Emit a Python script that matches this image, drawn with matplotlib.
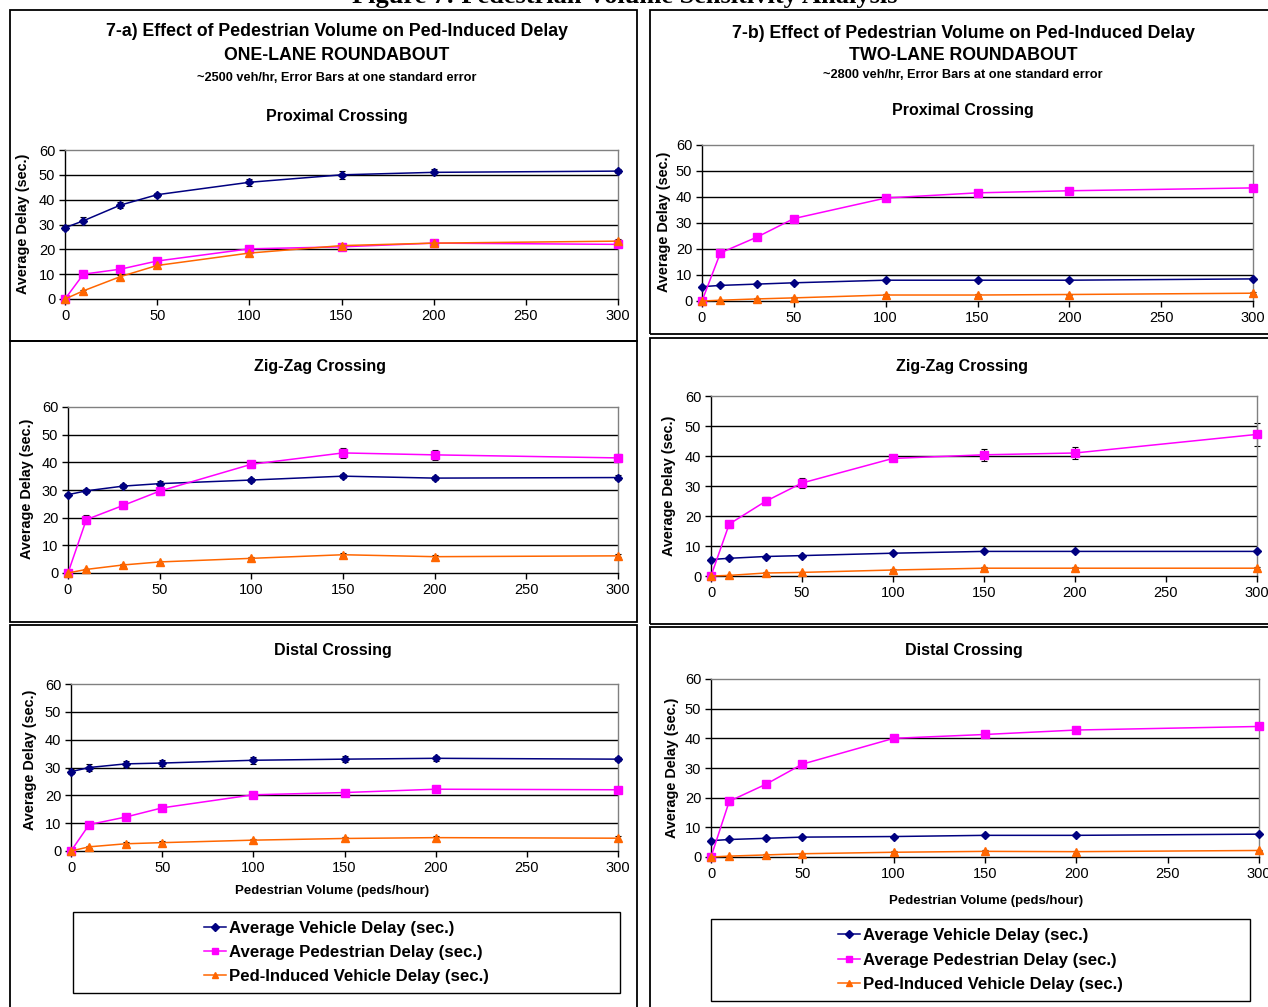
import matplotlib
matplotlib.use("Agg")
import matplotlib.pyplot as plt
from matplotlib.patches import Rectangle
from matplotlib.lines import Line2D

plt.rcParams['font.family'] = ['Liberation Sans', 'DejaVu Sans']

W, H = 1268, 1007

PED_VOLUME = [0, 10, 30, 50, 100, 150, 200, 300]
SERIES_NAMES = ['Average Vehicle Delay (sec.)',
                'Average Pedestrian Delay (sec.)',
                'Ped-Induced Vehicle Delay (sec.)']

# one-lane roundabout
VEH_1A = [28.7, 31.5, 37.8, 42.0, 47.0, 50.0, 51.0, 51.5]
PED_1A = [0.0, 10.0, 12.0, 15.3, 20.2, 21.0, 22.5, 22.0]
PID_1A = [0.0, 3.3, 9.0, 13.5, 18.5, 21.5, 22.5, 23.3]
VEH_2A = [28.3, 29.7, 31.4, 32.3, 33.6, 35.0, 34.3, 34.5]
PED_2A = [0.0, 19.3, 24.4, 29.6, 39.3, 43.4, 42.7, 41.6]
PID_2A = [0.0, 1.3, 2.9, 4.0, 5.3, 6.6, 5.9, 6.2]
VEH_3A = [28.5, 30.0, 31.3, 31.6, 32.6, 33.0, 33.3, 33.0]
PED_3A = [0.0, 9.5, 12.2, 15.5, 20.2, 21.0, 22.2, 22.0]
PID_3A = [0.0, 1.5, 2.6, 3.0, 3.9, 4.5, 4.8, 4.6]

# two-lane roundabout
VEH_1B = [5.5, 6.0, 6.5, 7.0, 8.0, 8.0, 8.0, 8.5]
PED_1B = [0.0, 18.5, 24.6, 31.7, 39.6, 41.6, 42.4, 43.5]
PID_1B = [0.0, 0.3, 0.8, 1.2, 2.3, 2.3, 2.5, 3.0]
VEH_2B = [5.5, 5.9, 6.5, 6.8, 7.6, 8.2, 8.2, 8.2]
PED_2B = [0.0, 17.3, 24.9, 31.0, 39.2, 40.4, 41.0, 47.2]
PID_2B = [0.0, 0.2, 1.0, 1.2, 2.0, 2.6, 2.6, 2.6]
VEH_3B = [5.5, 5.9, 6.3, 6.7, 6.9, 7.3, 7.3, 7.7]
PED_3B = [0.0, 18.8, 24.5, 31.3, 40.0, 41.3, 42.8, 44.0]
PID_3B = [0.0, 0.3, 0.7, 1.1, 1.6, 1.9, 1.8, 2.2]

# standard errors
VEH_ERR_1A = [0.8, 1.5, 1.2, 0.8, 1.5, 1.5, 1.2, 0.8]
PED_ERR_1A = [0.0, 0.8, 0.8, 0.8, 0.8, 0.8, 0.8, 0.8]
PID_ERR_1A = [0.0, 0.5, 0.8, 0.8, 0.8, 0.8, 0.8, 0.8]
VEH_ERR_2A = [0.5, 0.8, 0.8, 0.8, 0.8, 0.8, 0.8, 0.8]
PED_ERR_2A = [0.0, 1.6, 1.4, 1.3, 1.3, 1.8, 1.8, 1.3]
PID_ERR_2A = [0.0, 0.3, 0.4, 0.4, 0.4, 0.5, 0.5, 0.5]
VEH_ERR_3A = [0.8, 1.2, 1.2, 1.2, 1.2, 1.2, 0.9, 0.8]
PED_ERR_3A = [0.0, 0.8, 0.8, 0.8, 0.8, 0.8, 0.8, 0.8]
PID_ERR_3A = [0.0, 0.4, 0.5, 0.5, 0.5, 0.7, 0.7, 0.7]
VEH_ERR_1B = [0.3, 0.4, 0.3, 0.3, 0.3, 0.3, 0.3, 0.3]
PED_ERR_1B = [0.0, 1.5, 1.0, 1.0, 1.0, 0.8, 0.8, 0.8]
PID_ERR_1B = [0.0, 0.2, 0.2, 0.2, 0.3, 0.3, 0.3, 0.3]
VEH_ERR_2B = [0.3, 0.3, 0.3, 0.3, 0.3, 0.3, 0.3, 0.3]
PED_ERR_2B = [0.0, 1.2, 1.3, 1.6, 1.0, 1.9, 2.0, 3.7]
PID_ERR_2B = [0.0, 0.2, 0.2, 0.2, 0.3, 0.3, 0.3, 0.3]
VEH_ERR_3B = [0.3, 0.3, 0.3, 0.3, 0.3, 0.3, 0.3, 0.3]
PED_ERR_3B = [0.0, 1.2, 0.9, 1.2, 0.8, 0.8, 0.8, 0.8]
PID_ERR_3B = [0.0, 0.2, 0.2, 0.2, 0.3, 0.3, 0.3, 0.3]

COLORS = ['#000080', '#FF00FF', '#FF6600']
MARKERS = ['D', 's', '^']
MSIZES = [4, 5.5, 5.5]

fig = plt.figure(figsize=(W / 100, H / 100), dpi=100)


def fx(x):
    return x / W


def fy(y):
    return 1 - y / H


def box(x0, y0, x1, y1, lw=1.3):
    fig.patches.append(Rectangle((fx(x0), fy(y1)), fx(x1 - x0), (y1 - y0) / H,
                                 transform=fig.transFigure, fill=False,
                                 edgecolor='black', linewidth=lw))


def text(x, y, s, size, **kw):
    fig.text(fx(x), fy(y), s, fontsize=size, ha='center', va='center', **kw)


def panel(rect, series, errors):
    x0, y0, x1, y1 = rect
    ax = fig.add_axes([fx(x0), fy(y1), fx(x1 - x0), (y1 - y0) / H])
    for ys, es, c, m, ms in zip(series, errors, COLORS, MARKERS, MSIZES):
        ax.errorbar(PED_VOLUME, ys, yerr=es, fmt='none', ecolor='black',
                    elinewidth=0.8, capsize=2, capthick=0.8, clip_on=False)
        ax.plot(PED_VOLUME, ys, color=c, marker=m, markersize=ms, lw=1.1,
                clip_on=False, zorder=3)
    ax.set_xlim(0, 300)
    ax.set_ylim(0, 60)
    ax.set_xticks(range(0, 301, 50))
    ax.set_yticks(range(0, 61, 10))
    ax.tick_params(labelsize=10.5, direction='out', length=4, width=1, pad=3)
    for yv in range(10, 60, 10):
        ax.axhline(yv, color='black', lw=1, zorder=1)
    ax.spines['top'].set_color('#808080')
    ax.spines['right'].set_color('#808080')
    for s in ax.spines.values():
        s.set_linewidth(1)
    return ax


def legend_box(x0, y0, x1, y1):
    box(x0, y0, x1, y1, lw=1)
    handles = [Line2D([], [], color=c, marker=m, markersize=ms * 0.9, lw=1.1)
               for c, m, ms in zip(COLORS, MARKERS, MSIZES)]
    fig.legend(handles, SERIES_NAMES, loc='center',
               bbox_to_anchor=(fx((x0 + x1) / 2), fy((y0 + y1) / 2)),
               frameon=False, prop={'size': 12.1, 'weight': 'bold'},
               handlelength=1.3, handletextpad=0.2, labelspacing=0.55,
               borderpad=0)


# page title (cut at top)
fig.text(fx(625), fy(3), 'Figure 7: Pedestrian Volume Sensitivity Analysis',
         family='Liberation Serif', fontweight='bold', fontsize=19,
         ha='center', va='baseline')

# frames
box(10, 10, 637, 341)
box(10, 341, 637, 622)
box(10, 625, 637, 1015)
box(650, 10, 1280, 334)
box(650, 338, 1280, 624)
box(650, 627, 1280, 1015)

BOLD = {'fontweight': 'bold'}

# left column: one-lane
text(337, 32, '7-a) Effect of Pedestrian Volume on Ped-Induced Delay', 12.8, **BOLD)
text(337, 56, 'ONE-LANE ROUNDABOUT', 12.8, **BOLD)
text(337, 78, '~2500 veh/hr, Error Bars at one standard error', 9.2, **BOLD)
text(337, 117, 'Proximal Crossing', 11.5, **BOLD)
panel((65, 150, 618, 299), [VEH_1A, PED_1A, PID_1A], [VEH_ERR_1A, PED_ERR_1A, PID_ERR_1A])
text(23, 224, 'Average Delay (sec.)', 10.4, rotation=90, **BOLD)

text(320, 366, 'Zig-Zag Crossing', 11.5, **BOLD)
panel((68, 407, 618, 573), [VEH_2A, PED_2A, PID_2A], [VEH_ERR_2A, PED_ERR_2A, PID_ERR_2A])
text(27, 489, 'Average Delay (sec.)', 10.4, rotation=90, **BOLD)

text(333, 651, 'Distal Crossing', 11.5, **BOLD)
panel((71, 684, 618, 851), [VEH_3A, PED_3A, PID_3A], [VEH_ERR_3A, PED_ERR_3A, PID_ERR_3A])
text(30, 760, 'Average Delay (sec.)', 10.4, rotation=90, **BOLD)
text(332, 891, 'Pedestrian Volume (peds/hour)', 9.5, **BOLD)
legend_box(73, 912, 620, 993)

# right column: two-lane
text(963, 33, '7-b) Effect of Pedestrian Volume on Ped-Induced Delay', 12.8, **BOLD)
text(963, 55, 'TWO-LANE ROUNDABOUT', 12.8, **BOLD)
text(963, 75, '~2800 veh/hr, Error Bars at one standard error', 9.2, **BOLD)
text(963, 110, 'Proximal Crossing', 11.5, **BOLD)
panel((702, 145, 1253, 301), [VEH_1B, PED_1B, PID_1B], [VEH_ERR_1B, PED_ERR_1B, PID_ERR_1B])
text(664, 222, 'Average Delay (sec.)', 10.4, rotation=90, **BOLD)

text(962, 367, 'Zig-Zag Crossing', 11.5, **BOLD)
panel((711, 396, 1257, 576), [VEH_2B, PED_2B, PID_2B], [VEH_ERR_2B, PED_ERR_2B, PID_ERR_2B])
text(669, 486, 'Average Delay (sec.)', 10.4, rotation=90, **BOLD)

text(964, 650, 'Distal Crossing', 11.5, **BOLD)
panel((711, 679, 1259, 857), [VEH_3B, PED_3B, PID_3B], [VEH_ERR_3B, PED_ERR_3B, PID_ERR_3B])
text(672, 768, 'Average Delay (sec.)', 10.4, rotation=90, **BOLD)
text(986, 901, 'Pedestrian Volume (peds/hour)', 9.5, **BOLD)
legend_box(711, 919, 1250, 1001)

fig.savefig('out.png', dpi=100)
